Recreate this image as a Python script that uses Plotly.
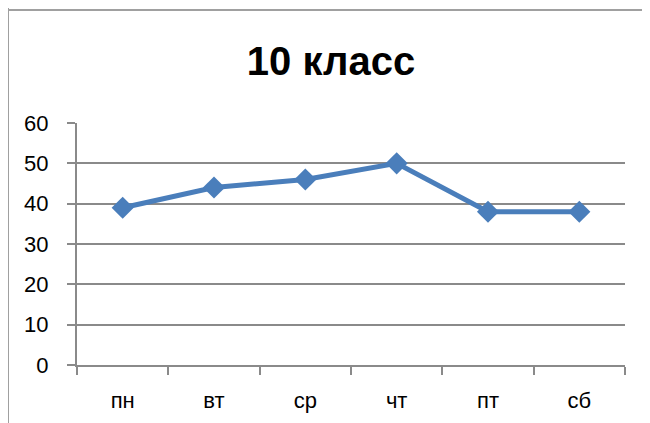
import plotly.graph_objects as go

days = ["пн", "вт", "ср", "чт", "пт", "сб"]
values = [39, 44, 46, 50, 38, 38]
y_ticks = [0, 10, 20, 30, 40, 50, 60]
title_text = "10 класс"

# the page renders the figure with an 8px offset; design in figure coords
OFF = 8
W, H = 650, 423
L = 77 - OFF
T = 123 - OFF
R = W - (625 - OFF)
B = H - (365 - OFF)
pw, ph = W - L - R, H - T - B

def px_x(px):
    return (px - OFF - L) / pw

def px_y(py):
    return (H - B - (py - OFF)) / ph

fig = go.Figure()
fig.add_trace(go.Scatter(
    x=days, y=values, mode="lines+markers",
    line=dict(color="#4A7EBB", width=5),
    marker=dict(symbol="diamond", size=17, color="#4A7EBB"),
    cliponaxis=False,
))

border = "#A0A0A0"
grid = "#8A8A8A"
fig.update_layout(
    width=W, height=H,
    margin=dict(l=L, r=R, t=T, b=B),
    paper_bgcolor="white", plot_bgcolor="white",
    showlegend=False,
    title=dict(text=title_text, x=(331 - OFF) / W, xanchor="center",
               y=1 - (61 - OFF) / H, yanchor="middle", yref="container",
               font=dict(family="Liberation Sans", size=40, color="black", weight="bold")),
    font=dict(family="Liberation Sans", size=22, color="black"),
    xaxis=dict(type="category", showgrid=False, showline=True, linecolor=grid,
               linewidth=2, ticks="outside", tickson="boundaries", ticklen=8,
               tickcolor=grid, tickwidth=2, ticklabelstandoff=15,
               range=[-0.5, 5.5], zeroline=False),
    yaxis=dict(range=[0, 60], tickvals=y_ticks, showgrid=True, gridcolor=grid,
               gridwidth=2, showline=True, linecolor=grid, linewidth=2,
               ticks="outside", ticklen=8, tickcolor=grid, tickwidth=2,
               ticklabelstandoff=14, zeroline=False),
    shapes=[
        dict(type="line", xref="paper", yref="paper", x0=px_x(8), x1=px_x(8),
             y0=px_y(8), y1=px_y(431), line=dict(color=border, width=2)),
        dict(type="line", xref="paper", yref="paper", x0=px_x(8), x1=px_x(658),
             y0=px_y(10), y1=px_y(10), line=dict(color=border, width=2)),
    ],
)

fig.write_html("out.html")
